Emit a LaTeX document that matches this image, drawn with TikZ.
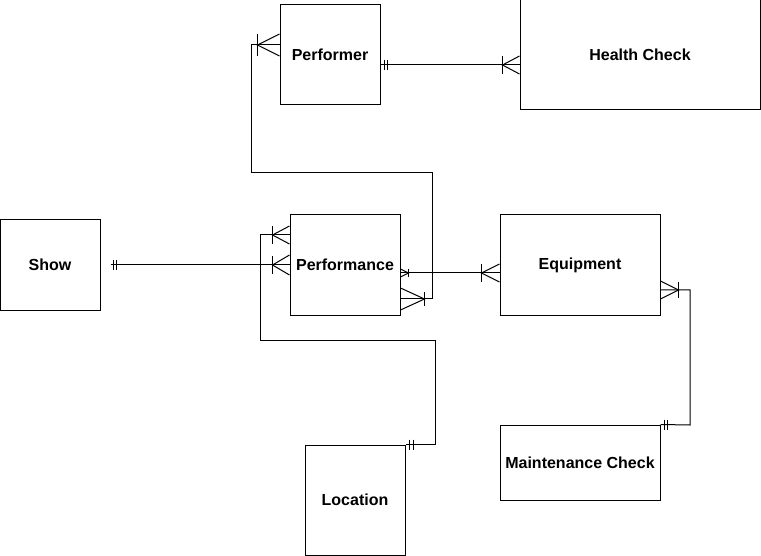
\documentclass[tikz,border=0pt]{standalone}
\usepackage{fontspec}
\setmainfont{Liberation Sans}
\usetikzlibrary{calc}
\tikzset{
  entity/.style args={#1/#2}{draw,line width=0.75pt,minimum width=#1*0.75pt,minimum height=#2*0.75pt,
    inner sep=0pt,font=\fontsize{12}{14}\selectfont\bfseries},
  pics/crow/.style args={#1/#2/#3}{code={
    \draw (0,-#2) -- (#1,0) -- (0,#2);
    \draw (#1,-#3) -- (#1,#3);}},
  pics/bars/.style args={#1/#2}{code={
    \draw (#1,-5) -- (#1,5) (#2,-5) -- (#2,5);}}
}
\begin{document}
\begin{tikzpicture}[x=0.75pt,y=-0.75pt,line width=0.75pt,line cap=butt,line join=miter]
			\useasboundingbox (0,0) rectangle (761,556);
			\node[entity=100/100] (performer) at (330,55) {Performer};
			\node[entity=240/110] (health) at (640,55) {Health Check};
			\node[entity=100/90] (show) at (50,265) {Show};
			\node[entity=110/100] (performance) at (345,265) {Performance};
			\node[entity=160/100] (equipment) at (580,265) {Equipment};
			\node[entity=160/75] (maint) at (580,462.5) {Maintenance Check};
			\node[entity=100/110] (location) at (355,500) {Location};
			\draw ($(performer.east)+(0,10)$) -- ($(health.west)+(0,10)$);
			\path ($(performer.east)+(0,10)$) pic{bars=4/7}
			($(health.west)+(0,10)$) pic[rotate=180]{crow=17/9/9};
			\draw ($(performer.west)+(0,-10)$) -| (251,173) -| ($(performance.east)+(32,34)$) -- ($(performance.east)+(0,34)$);
			\path ($(performer.west)+(0,-10)$) pic[rotate=180]{crow=22/11/11}
			($(performance.east)+(0,34)$) pic{crow=24/11/7};
			\draw ($(show.east)+(10,0)$) -- (performance.west);
			\path (show.east) pic{bars=13/16}
			(performance.west) pic[rotate=180]{crow=17/10/9};
			\draw (location.north east) -| (435,340) -| (260,235) -- ($(performance.west)+(0,-30)$);
			\path (location.north east) pic{bars=4/8}
			($(performance.west)+(0,-30)$) pic[rotate=180]{crow=17/9/9};
			\draw ($(performance.east)+(0,8)$) -- ($(equipment.west)+(0,8)$);
			\path ($(performance.east)+(0,8)$) pic{crow=8/4/4}
			($(equipment.west)+(0,8)$) pic[rotate=180]{crow=18/9/9};
			\draw ($(equipment.east)+(0,25)$) -| (690,425) -- (maint.north east);
			\path ($(equipment.east)+(0,25)$) pic{crow=18/9/8}
			(maint.north east) pic{bars=4/7};
		\end{tikzpicture}
\end{document}
